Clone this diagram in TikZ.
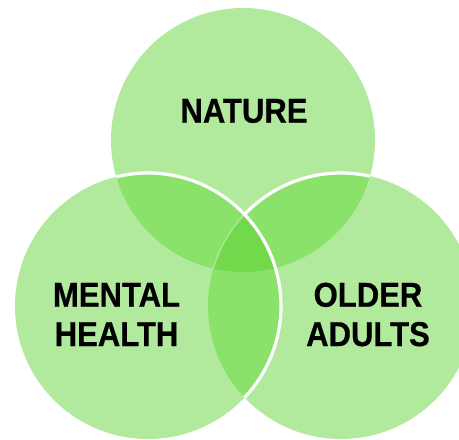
\documentclass[tikz,border=0pt]{standalone}
\usepackage{fontspec}
\usetikzlibrary{calc}
\newfontfamily\vennfont{Liberation Sans}[FakeStretch=0.9,FakeBold=0.6]
\definecolor{vennone}{HTML}{B1EA9C}
\definecolor{venntwo}{HTML}{8BE26B}
\definecolor{vennthree}{HTML}{72D94D}
\begin{document}
\begin{tikzpicture}[x=1pt,y=1pt,
  label text/.style={inner sep=0pt, align=center, text=black,
    font=\vennfont\bfseries\fontsize{34.5}{39.3}\selectfont},
  seam/.style={draw=white, line width=3.2pt},
  faint seam/.style={draw=white, draw opacity=0.35, line width=1.4pt}]
\useasboundingbox (0,0) rectangle (459,440);
% circle centres and radii
\coordinate (cT) at (243,300);
\coordinate (cL) at (148,134);
\coordinate (cR) at (341,134);
\def\circT{(cT) circle[radius=132pt]}
\def\circL{(cL) circle[radius=133pt]}
\def\circR{(cR) circle[radius=133pt]}
% single regions
\fill[vennone] \circT;
\fill[vennone] \circL;
\fill[vennone] \circR;
% pairwise overlaps
\begin{scope}
  \clip \circT;
  \fill[venntwo] \circL;
  \fill[venntwo] \circR;
\end{scope}
\begin{scope}
  \clip \circL;
  \fill[venntwo] \circR;
\end{scope}
% centre of all three
\begin{scope}
  \clip \circT;
  \clip \circL;
  \fill[vennthree] \circR;
\end{scope}
% white seams
\draw[faint seam] ($(cR)+(136.5:133pt)$) arc[start angle=136.5, end angle=163.7, radius=133pt];
\draw[seam] ($(cL)+(103.8:133pt)$) arc[start angle=103.8, end angle=-43.5, radius=133pt];
\draw[seam] ($(cR)+(77.4:133pt)$) arc[start angle=77.4, end angle=136.5, radius=133pt];
% labels
\node[label text] (nature) at (244,329) {NATURE};
\node[label text] (mental) at (116.5,125.5) {MENTAL\\HEALTH};
\node[label text] (older) at (368,125.5) {OLDER\\ADULTS};
\end{tikzpicture}
\end{document}
